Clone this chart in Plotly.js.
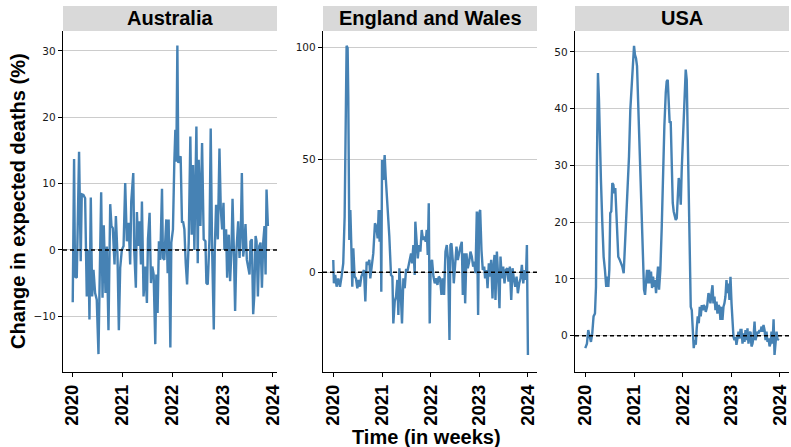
<!DOCTYPE html>
<html><head><meta charset="utf-8">
<script src="https://cdn.plot.ly/plotly-3.0.1.min.js"></script>
<style>html,body{margin:0;padding:0;background:#fff}#chart{width:791px;height:447px}</style>
</head><body><div id="chart"></div>
<script>
// ---- data (weeks since 2020-01-01, % change in expected deaths) ----
const panelNames = ['Australia', 'England and Wales', 'USA'];
const yearTicks = ['2020', '2021', '2022', '2023', '2024'];

const ausWeek = [0.7,2.1,3.1,4.9,7.3,9.0,10.1,11.8,13.6,15.3,17.0,18.1,19.5,20.9,22.3,24.0,25.7,27.5,28.5,30.3,31.7,33.0,34.8,36.2,37.9,39.7,41.0,42.4,44.2,45.6,47.3,48.7,50.1,51.8,53.6,55.3,57.0,58.8,60.5,61.6,63.7,64.7,66.4,67.5,68.9,70.3,71.7,72.7,74.4,76.2,77.9,79.0,80.7,82.1,83.5,84.9,86.6,87.7,89.0,90.4,91.8,93.6,94.6,96.0,98.1,99.5,100.5,102.3,103.3,105.0,106.4,107.5,108.5,109.6,110.6,111.7,113.0,114.4,115.5,116.9,118.3,119.7,121.4,123.1,124.5,125.9,127.3,128.3,129.4,130.8,131.8,133.6,135.3,137.0,138.8,139.8,141.2,143.0,144.3,145.7,147.5,148.5,149.9,151.7,153.4,154.8,156.2,157.6,158.6,160.3,161.4,163.1,164.5,165.9,167.0,168.3,169.7,171.1,172.9,174.3,175.7,176.7,178.1,179.1,180.5,181.9,183.3,184.7,185.7,187.1,188.5,189.6,191.0,192.0,193.4,194.8,196.2,197.6,199.0,200.3,201.4,202.4,203.8];
const ausVal = [-7.9,13.7,-4,-4.2,14.8,-1.7,8.4,8.3,7.8,-7,0,-10.5,7.9,-7,-3,-6.5,-7.5,-15.7,-6.5,8.7,-7.2,3.7,-6.5,0.5,-12.1,6.9,3.6,3.3,-2.2,5.1,-1,-12.1,-2.7,0,0.6,10.1,1.3,4.1,-2.2,7.3,11.6,0,-5.7,5.7,0.6,4.3,-2.2,7.3,-7,-2.5,-8,1.6,5.6,-5,-2.5,-3.7,-14.2,-3.7,-9.5,1.3,-1.5,9.2,-1.2,-1.5,4.6,-3.5,4.6,-14.7,1.1,3.1,13.1,18.1,13.3,30.8,13.1,13.8,14.1,4.1,4.3,3.1,-2,-5.2,1.1,17.1,2.3,12.8,0,12.8,18.6,-2,13.6,3.6,16.1,1.6,1.3,-5,-5.2,1.6,18.3,0.6,-12,0,6.8,1.6,15.3,6.1,3.1,7.1,0,3.1,-4.2,2.3,-4.7,0,7.7,0.6,-9.2,0,4.3,-1.2,3.1,11.6,-1,0.3,3.9,-1.5,-3,-3.7,1.3,1.6,-9.7,-7,2.1,1.3,-7,0.6,1.1,-5.7,1.3,3.6,-3.7,9.1,3.6];

const ewWeek = [0,0.7,2.1,3.6,5.4,7.2,8.9,10.7,12.2,13.2,14.3,15.4,16.1,17.2,18.3,19.3,20.4,21.5,22.9,24.3,25.8,27.2,28.6,30.1,31.5,32.9,34.4,35.8,37.2,38.7,39.7,41.2,42.9,44.7,46.2,47.6,48.7,49.7,50.8,51.5,52.3,53.7,55.1,56.2,58.0,60.1,61.9,63.4,64.4,65.9,67.3,68.7,69.8,70.9,72.3,73.7,75.2,76.6,78.0,79.8,81.6,83.4,84.5,85.9,87.3,88.0,89.5,90.6,92.0,93.4,94.8,96.3,97.7,99.1,100.2,101.3,102.4,103.4,104.5,105.9,107.4,108.8,110.2,111.7,113.1,114.5,116.0,117.4,118.8,120.3,121.7,123.1,124.6,125.6,126.7,128.1,129.2,130.6,132.1,133.5,134.9,136.4,137.8,138.9,140.3,141.4,142.8,144.2,145.7,147.1,148.5,150.0,151.0,152.5,153.9,155.3,156.4,157.5,158.9,160.3,161.8,162.8,164.3,165.4,166.8,167.9,169.3,170.7,171.8,172.9,173.9,175.4,176.8,178.2,179.3,180.7,182.2,183.6,185.0,186.5,187.9,189.3,190.8,192.2,193.6,195.1,196.5,197.9,199.4,200.8,202.2,203.7,205.1,206.5,207.6,208.7];
const ewVal = [5.5,-4.9,-1.2,-6.4,-2.7,-6.4,-1.9,4,24.7,70.7,100.6,99.6,78,14.4,27.7,12.9,-6.4,10.7,-1.9,-2.7,-7.1,-3.4,-6.4,-1.9,-0.4,1,-13,4.7,3.3,5.5,-2.7,4,8.4,21.8,20.3,15.1,27.7,13.6,27.7,-8.6,49.9,41,52.1,42.5,30.7,15.9,-1.2,-1.9,-22.7,-13,-10.8,-3.4,-19,1.8,-8.6,-22.7,-2.7,-7.1,1,1,4.7,8.4,4,12.1,-1.2,22.5,12.9,6.2,12.1,9.2,18.8,14.4,15.9,13.6,18.8,7.7,30.7,-22.7,4,5.5,-1.9,-4.9,-2.7,-5.6,-1.9,-2.7,-10.1,-2.7,-10.1,9.2,12.1,5.5,-30.1,12.1,12.9,5.5,-4.9,3.3,11.4,5.5,9.2,11.4,13.6,-10.1,8.4,-13.8,8.4,1.8,4.7,9.2,7,2.5,4.7,-0.4,27,-19,26.2,27.7,9.9,1,2.5,-2.7,1,-7.1,4,-1.9,5.5,-11.6,2.5,7.7,-12.3,9.2,-1.9,-16,7,-2.7,2.5,-4.9,1,1.8,-4.1,2.5,-12.3,1.8,-2.7,-6.4,-1.9,-9.3,-4.9,-2.7,3.3,-4.9,1,-3.4,12.1,-36.7];

const usaWeek = [0,1.8,3.2,4.7,6.1,7.5,8.9,10.4,11.5,12.5,13.6,14.7,15.7,16.8,18.3,19.7,21.1,22.5,23.6,24.7,25.8,26.8,27.9,29.0,30.1,31.1,32.2,33.3,34.4,35.4,36.9,38.3,39.7,41.2,42.6,44.0,45.5,46.9,48.3,49.7,51.2,52.3,53.3,54.4,55.5,56.5,57.6,58.7,60.1,61.6,63.0,64.1,65.1,66.2,67.3,68.4,69.4,70.5,71.6,72.7,73.7,74.8,75.9,76.9,78.0,79.1,80.5,82.0,83.4,84.8,86.3,87.3,88.4,89.5,90.5,91.6,92.7,93.8,94.8,95.9,97.0,98.1,99.1,100.2,101.3,102.4,103.4,104.9,106.3,107.7,108.8,109.9,110.9,112.0,113.1,114.2,115.2,116.3,117.4,118.5,119.5,120.6,121.7,122.8,123.8,124.9,126.0,127.1,128.1,129.2,130.6,132.1,133.1,134.2,135.3,136.4,137.4,138.5,139.6,140.7,141.7,142.8,143.9,144.9,146.0,147.1,148.2,149.2,150.3,151.4,152.5,153.5,154.6,155.7,156.8,157.8,158.9,160.0,161.1,162.1,163.2,164.3,165.4,166.4,167.5,168.6,169.6,170.7,171.8,172.9,173.9,175.0,176.1,177.2,178.2,179.3,180.4,181.5,182.5,183.6,184.7,185.8,186.8,187.9,189.0,190.0,191.1,192.2,193.3,194.3,195.4,196.5,197.6,198.6,199.7,200.8,201.9,202.9,204.0,205.1,206.2,207.2];
const usaVal = [-2.2,-1.4,1,-0.5,-1.1,0.4,3.4,3.9,8.6,30.4,46.3,41.6,33.4,27.5,19.8,13.9,11.6,8.6,10.4,8.6,11.6,21.6,21.9,26.9,26.6,25.1,26,21,15.1,13.9,13.4,12.8,12.2,11,15.7,22.2,26.9,31.6,39.8,43.4,46.9,51.1,49.5,48.9,47.5,42.2,39.8,30.4,22.8,14.5,8.1,7.2,9.2,11.6,9.2,11.6,9.2,11.3,8.4,10.4,8.6,9.8,7.5,9.2,12.2,8.1,11.6,19.2,29.2,36.9,42.8,44.8,45.1,40.4,37.5,37.8,29.2,23.4,21.9,21.3,20.4,20.7,23.4,27.8,26.3,23.1,29.2,36.3,42.8,46.9,45.1,35.1,21.6,11.6,5.1,4.5,2.2,-2.2,-0.8,-1.6,1.3,3.4,2.2,5.1,3.4,5.4,4.5,5.4,5.1,4.2,5.1,7.5,6.9,5.7,7.5,8.9,5.7,6.9,4.5,6,3.9,5.4,5.1,2.8,5.1,2.8,5.1,5.7,6.9,9.8,7.5,9.2,6.3,10.4,5.7,2.2,-0.2,-0.8,-0.2,-1.6,-0.2,0.7,-0.5,1,1,-1.4,0.4,-1.1,1,-0.8,1.3,-1.4,0.4,0.7,-1.9,-1.4,-0.2,2.5,-0.8,-0.2,0.7,0.4,1,0.7,1.6,0.7,1.9,1,-0.8,0.7,-1.1,-0.5,-1.9,-1.4,0.7,-1.4,2.9,-3.4,-0.8,0.7,-0.8,-0.5];

// ---- helpers ----
function weekToDate(w) {
  const ms = Date.UTC(2020, 0, 1) + w * 7 * 86400000;
  return new Date(ms).toISOString().slice(0, 19).replace('T', ' ');
}
const series = [[ausWeek, ausVal], [ewWeek, ewVal], [usaWeek, usaVal]];
const xDomains = [[63/791, 277/791], [323/791, 537/791], [575/791, 789/791]];
const yDomain = [75/447, 416/447];
const stripTop = 441/447;
const xRanges = [['2019-10-27', '2024-02-02'], ['2019-10-16', '2024-03-09'], ['2019-10-16', '2024-03-09']];
const yRanges = [[-18.4, 33.0], [-44.3, 107.2], [-6.4, 53.7]];
const yDticks = [10, 50, 10];

const traces = series.map((s, i) => ({
  type: 'scatter', mode: 'lines',
  x: s[0].map(weekToDate), y: s[1],
  xaxis: i === 0 ? 'x' : 'x' + (i + 1),
  yaxis: i === 0 ? 'y' : 'y' + (i + 1),
  line: {color: '#4682B4', width: 2.4},
  hoverinfo: 'x+y', showlegend: false
}));

const layout = {
  width: 791, height: 447,
  margin: {l: 0, r: 0, t: 0, b: 0},
  paper_bgcolor: '#ffffff', plot_bgcolor: '#ffffff',
  showlegend: false,
  shapes: [], annotations: []
};

for (let i = 0; i < 3; i++) {
  const sfx = i === 0 ? '' : String(i + 1);
  layout['xaxis' + sfx] = {
    domain: xDomains[i], anchor: 'y' + sfx, type: 'date',
    range: xRanges[i],
    tickmode: 'array',
    tickvals: yearTicks.map(y => y + '-01-01'), ticktext: yearTicks,
    tickangle: -90, ticks: 'outside', ticklen: 4, tickwidth: 1, tickcolor: '#000',
    showline: true, linecolor: '#000', linewidth: 1.2,
    showgrid: false, zeroline: false,
    tickfont: {family: 'Liberation Sans, Arial, sans-serif', size: 18.5, weight: 'bold', color: '#000'}
  };
  layout['yaxis' + sfx] = {
    domain: yDomain, anchor: 'x' + sfx,
    range: yRanges[i], tick0: 0, dtick: yDticks[i],
    ticks: 'outside', ticklen: 4, tickwidth: 1, tickcolor: '#000',
    showline: true, linecolor: '#000', linewidth: 1.2,
    showgrid: true, gridcolor: '#cccccc', gridwidth: 1, zeroline: false,
    tickfont: {family: 'DejaVu Sans, sans-serif', size: 10.5, color: '#1a1a1a'}
  };
  layout.shapes.push({
    type: 'line', xref: 'x' + sfx + ' domain', yref: 'y' + sfx,
    x0: 0, x1: 1, y0: 0, y1: 0,
    line: {color: '#000', width: 1.4, dash: '4px,3px'}
  });
  layout.shapes.push({
    type: 'rect', xref: 'paper', yref: 'paper',
    x0: xDomains[i][0], x1: xDomains[i][1], y0: yDomain[1], y1: stripTop,
    fillcolor: '#d9d9d9', line: {width: 0}, layer: 'below'
  });
  layout.annotations.push({
    xref: 'paper', yref: 'paper',
    x: (xDomains[i][0] + xDomains[i][1]) / 2, y: (yDomain[1] + stripTop) / 2,
    xanchor: 'center', yanchor: 'middle', showarrow: false,
    text: panelNames[i],
    font: {family: 'Liberation Sans, Arial, sans-serif', size: 20, weight: 'bold', color: '#000'}
  });
}

layout.annotations.push({
  xref: 'paper', yref: 'paper', x: 18/791, y: (447 - 201)/447,
  xanchor: 'center', yanchor: 'middle', showarrow: false, textangle: -90,
  text: 'Change in expected deaths (%)',
  font: {family: 'Liberation Sans, Arial, sans-serif', size: 20, weight: 'bold', color: '#000'}
});
layout.annotations.push({
  xref: 'paper', yref: 'paper', x: 426/791, y: (447 - 437)/447,
  xanchor: 'center', yanchor: 'middle', showarrow: false,
  text: 'Time (in weeks)',
  font: {family: 'Liberation Sans, Arial, sans-serif', size: 20, weight: 'bold', color: '#000'}
});

Plotly.newPlot('chart', traces, layout, {displayModeBar: false, staticPlot: true});
</script>
</body></html>
